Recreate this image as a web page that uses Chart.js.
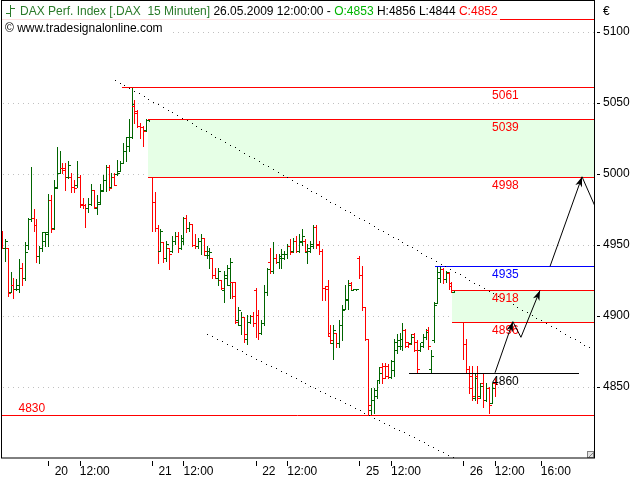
<!DOCTYPE html>
<html>
<head>
<meta charset="utf-8">
<title>DAX Perf. Index 15 Minuten</title>
<script src="https://cdn.jsdelivr.net/npm/chart.js@4.4.0/dist/chart.umd.min.js"></script>
<style>
  html, body { margin: 0; padding: 0; background: #fff; }
  #wrap { width: 640px; height: 480px; }
</style>
</head>
<body>
<div id="wrap"><canvas id="daxChart" width="640" height="480"></canvas></div>
<script>
// 15 minute bars, bar 0 = first bar of 20.05.2009, 36 bars per day
const firstBar = -16;

// one row per day: 19. (afternoon), 20., 21., 22., 25., 26. (until 12:00)
const opens = [
  4959,4948,4948,4917,4922,4919,4919,4934,4927,4950,4968,4969,4964,4942,4948,4953,
  4959,4982,4962,4991,5001,5004,5004,4998,4998,4991,4992,4998,4979,4978,4976,4979,4989,4976,4980,4988,4996,5005,4991,4998,5000,5002,5008,5016,5020,5026,5048,5043,5034,5033,5031,5038,
  4998,4980,4962,4946,4952,4941,4948,4946,4953,4956,4948,4953,4969,4962,4965,4950,4949,4953,4955,4943,4943,4941,4929,4927,4925,4918,4927,4922,4924,4924,4897,4894,4899,4884,4896,4900,
  4918,4901,4888,4895,4917,4938,4932,4941,4938,4941,4941,4944,4949,4946,4953,4946,4952,4953,4945,4946,4949,4963,4951,4946,4920,4921,4888,4881,4888,4881,4894,4905,4911,4923,4918,4919,
  4941,4929,4906,4884,4834,4841,4844,4855,4864,4865,4865,4857,4862,4876,4879,4879,4890,4882,4881,4887,4882,4876,4882,4885,4890,4863,4883,4909,4927,4933,4926,4930,4923,4917,4918,4918,
  4896,4880,4863,4858,4842,4858,4844,4853,4841,4849,4839,4853
];
const highs = [
  4960,4954,4948,4931,4927,4926,4940,4937,4952,4969,5005,4975,4968,4949,4959,4959,
  4986,4985,4996,5019,5016,5008,5008,5009,5001,4996,5009,4999,4983,4979,4983,4993,4989,4985,4993,4999,5006,5006,5001,5001,5010,5009,5022,5026,5039,5061,5052,5045,5036,5034,5039,5039,
  4998,4987,4964,4961,4952,4953,4948,4956,4959,4959,4957,4970,4971,4966,4965,4958,4955,4958,4955,4949,4948,4941,4934,4934,4925,4932,4936,4941,4924,4924,4906,4903,4899,4901,4901,4903,
  4920,4904,4897,4922,4934,4948,4952,4944,4944,4947,4946,4951,4954,4955,4956,4958,4961,4954,4951,4953,4964,4964,4953,4947,4921,4925,4894,4894,4888,4897,4908,4922,4925,4924,4919,4919,
  4942,4935,4906,4884,4849,4849,4855,4864,4867,4867,4866,4869,4884,4887,4888,4895,4891,4882,4887,4888,4883,4881,4887,4891,4892,4876,4910,4935,4935,4934,4932,4931,4924,4918,4918,4918,
  4896,4884,4865,4865,4860,4865,4853,4860,4853,4850,4853,4856
];
const lows = [
  4948,4939,4914,4917,4913,4918,4917,4922,4925,4947,4967,4960,4938,4937,4946,4949,
  4949,4959,4961,4990,5001,5001,4989,4997,4987,4987,4991,4977,4976,4963,4973,4978,4976,4972,4979,4988,4988,4989,4991,4992,4999,5002,5008,5009,5016,5025,5036,5033,5025,5020,5030,5037,
  4960,4960,4937,4946,4938,4939,4933,4945,4951,4945,4947,4951,4959,4960,4949,4948,4948,4944,4943,4941,4934,4927,4927,4922,4919,4910,4922,4913,4913,4895,4894,4887,4882,4880,4895,4893,
  4885,4884,4887,4894,4915,4930,4930,4937,4934,4934,4940,4941,4944,4945,4945,4945,4950,4945,4937,4945,4948,4948,4944,4911,4911,4886,4881,4870,4878,4878,4883,4905,4905,4918,4918,4918,
  4927,4904,4883,4830,4830,4832,4842,4853,4853,4856,4856,4856,4858,4874,4877,4876,4878,4878,4880,4875,4860,4875,4878,4884,4877,4860,4882,4909,4924,4923,4924,4919,4917,4917,4918,4918,
  4870,4860,4846,4841,4841,4839,4842,4836,4840,4832,4839,4844
];
const closes = [
  4948,4953,4916,4922,4919,4922,4934,4927,4945,4968,4969,4964,4942,4948,4959,4958,
  4982,4961,4990,5001,5004,5003,4998,5006,4991,4990,4998,4978,4978,4976,4979,4989,4977,4979,4989,4996,5005,4990,4998,4992,5001,5008,5016,5026,5026,5049,5044,5034,5033,5030,5038,5039,
  4980,4962,4946,4960,4941,4951,4944,4953,4956,4948,4955,4969,4962,4965,4950,4949,4953,4955,4946,4946,4945,4929,4927,4932,4920,4929,4934,4938,4914,4896,4904,4899,4887,4896,4900,4895,
  4901,4888,4895,4917,4933,4932,4941,4938,4942,4944,4944,4949,4945,4953,4946,4953,4956,4946,4948,4951,4963,4950,4946,4920,4919,4886,4883,4890,4881,4894,4904,4912,4922,4918,4919,4919,
  4929,4906,4884,4837,4841,4848,4855,4860,4856,4858,4857,4868,4882,4883,4884,4890,4879,4880,4885,4876,4863,4879,4885,4889,4879,4872,4908,4931,4933,4926,4931,4921,4918,4918,4918,4918,
  4880,4863,4849,4844,4856,4842,4851,4841,4849,4837,4849,4852
];

// time axis
const xTicks = [0, 11, 36, 47, 72, 83, 108, 119, 144, 155, 171];
const xTickLabels = ['  20', '12:00', '  21', '12:00', '  22', '12:00', '  25', '12:00', '  26', '12:00', '16:00'];
const yTicks = [4850, 4900, 4950, 5000, 5050, 5100];

// horizontal levels (price, first bar, last bar; null = to the edge)
const levels    = [5109, 5061, 5039, 4998, 4935, 4918, 4896, 4860, 4830];
const levelFrom = [null, 25.7, 34.6, 34.6, 134.3, 140.2, 140.2, 125.3, null];
const levelTo   = [null, null, null, null, null, null, null, 184.2, null];
const levelText = ['', '5061', '5039', '4998', '4935', '4918', '4896', '4860', '4830'];
const levelTextBar = [null, 158.7, 158.7, 158.7, 158.7, 158.7, 158.7, 158.7, -5.6];

// gaps: upper price, lower price, first bar
const gapBoxes = [[5039, 4998, 34.6], [4918, 4896, 140.2]];

// dotted trend channel [bar, price]
const trendUpper = [[23.2, 5066.2], [188.1, 4877.5]];
const trendLower = [[55.2, 4887.3], [141.2, 4800]];

// projected path, arrow heads at the listed vertices
const pathA = [[155.1, 4860], [161.3, 4896], [164.1, 4885], [170.7, 4918]];
const pathAHeads = [1, 3];
const pathB = [[174.2, 4935], [185.3, 4998], [190.5, 4974]];
const pathBHeads = [1];

const FONT = "Arial, 'Liberation Sans', sans-serif";
Chart.defaults.font.family = FONT;
Chart.defaults.font.size = 12;
Chart.defaults.color = '#000';

const UP = '#006400';
const DOWN = '#ff0000';
const levelColors = ['#ff0000', '#ff0000', '#ff0000', '#ff0000', '#0000ff', '#ff0000', '#ff0000', '#000000', '#ff0000'];

function arrowHead(ctx, from, tip) {
  const ang = Math.atan2(tip[1] - from[1], tip[0] - from[0]);
  const len = 10, half = 3.5;
  const bx = tip[0] - len * Math.cos(ang), by = tip[1] - len * Math.sin(ang);
  const nx = tip[0] - 0.7 * len * Math.cos(ang), ny = tip[1] - 0.7 * len * Math.sin(ang);
  const ox = -Math.sin(ang) * half, oy = Math.cos(ang) * half;
  ctx.beginPath();
  ctx.moveTo(tip[0], tip[1]);
  ctx.lineTo(bx + ox, by + oy);
  ctx.lineTo(nx, ny);
  ctx.lineTo(bx - ox, by - oy);
  ctx.closePath();
  ctx.fill();
}

// single pixel dots along a segment
function dots(ctx, x0, y0, x1, y1, step) {
  const len = Math.hypot(x1 - x0, y1 - y0);
  const n = Math.floor(len / step);
  for (let k = 0; k <= n; k++) {
    const t = k * step / len;
    ctx.fillRect(Math.round(x0 + (x1 - x0) * t), Math.round(y0 + (y1 - y0) * t), 1, 1);
  }
}

// keep the plot frame where it is, labels may overhang
function noPadding(s) {
  s.paddingTop = 0; s.paddingBottom = 0; s.paddingLeft = 0; s.paddingRight = 0;
}

const chartDrawing = {
  id: 'chartDrawing',
  afterDatasetsDraw(chart) {
    const { ctx, chartArea: a, scales: { x, y } } = chart;
    const px = v => x.getPixelForValue(v);
    const py = v => y.getPixelForValue(v);
    const row = v => Math.round(py(v));

    ctx.save();
    ctx.beginPath();
    ctx.rect(a.left, a.top, a.right - a.left, a.bottom - a.top);
    ctx.clip();

    // dotted grid
    ctx.fillStyle = '#c0c0c0';
    y.ticks.forEach(t => dots(ctx, a.left + 2, row(t.value), a.right, row(t.value), 5));

    // gap boxes
    ctx.fillStyle = '#e6ffe6';
    gapBoxes.forEach(([top, bottom, from]) => {
      const x0 = Math.round(px(from));
      ctx.fillRect(x0, row(top), a.right - x0, row(bottom) - row(top));
    });

    // OHLC bars
    for (let i = 0; i < opens.length; i++) {
      const xx = Math.round(px(firstBar + i));
      const yh = row(highs[i]), yl = row(lows[i]);
      ctx.fillStyle = closes[i] >= opens[i] ? UP : DOWN;
      ctx.fillRect(xx, yh, 1, Math.max(1, yl - yh + 1));
      ctx.fillRect(xx - 2, row(opens[i]), 2, 1);
      ctx.fillRect(xx + 1, row(closes[i]), 2, 1);
    }

    // levels
    ctx.lineWidth = 1;
    levels.forEach((p, k) => {
      const x0 = levelFrom[k] === null ? a.left : Math.round(px(levelFrom[k]));
      const x1 = levelTo[k] === null ? a.right : Math.round(px(levelTo[k]));
      const yy = row(p) + 0.5;
      ctx.strokeStyle = levelColors[k];
      ctx.beginPath(); ctx.moveTo(x0, yy); ctx.lineTo(x1, yy); ctx.stroke();
    });

    // trend channel
    ctx.fillStyle = '#000';
    [trendUpper, trendLower].forEach(([p0, p1]) => {
      dots(ctx, px(p0[0]), py(p0[1]), px(p1[0]), py(p1[1]), 5.5);
    });

    // level labels
    ctx.font = '12px ' + FONT;
    ctx.textAlign = 'center';
    ctx.textBaseline = 'alphabetic';
    levels.forEach((p, k) => {
      if (!levelText[k]) return;
      ctx.fillStyle = levelColors[k];
      const below = levelTextBar[k] > 0;
      ctx.fillText(levelText[k], px(levelTextBar[k]), below ? row(p) + 12 : row(p) - 3);
    });

    // projected path with arrows
    ctx.strokeStyle = '#000';
    ctx.fillStyle = '#000';
    [[pathA, pathAHeads], [pathB, pathBHeads]].forEach(([path, heads]) => {
      const pts = path.map(([b, p]) => [px(b), py(p)]);
      ctx.beginPath();
      pts.forEach((pt, k) => k ? ctx.lineTo(pt[0], pt[1]) : ctx.moveTo(pt[0], pt[1]));
      ctx.stroke();
      heads.forEach(h => arrowHead(ctx, pts[h - 1], pts[h]));
    });

    // resize grip in the corner
    ctx.fillStyle = '#e4e4e4';
    ctx.fillRect(a.right - 7, a.bottom - 7, 7, 7);
    ctx.strokeStyle = '#808080';
    ctx.strokeRect(a.right - 6.5, a.bottom - 6.5, 6, 6);
    ctx.beginPath(); ctx.moveTo(a.right - 5, a.bottom - 1); ctx.lineTo(a.right - 1, a.bottom - 5); ctx.stroke();
    ctx.restore();

    // frame
    ctx.save();
    ctx.strokeStyle = '#000';
    ctx.lineWidth = 1;
    ctx.strokeRect(a.left + 0.5, a.top - 0.5, a.right - a.left, a.bottom - a.top + 0.5);

    // tick marks
    y.ticks.forEach(t => {
      const yy = row(t.value) + 0.5;
      ctx.beginPath(); ctx.moveTo(a.right + 3, yy); ctx.lineTo(a.right + 6, yy); ctx.stroke();
    });
    x.ticks.forEach(t => {
      const xx = Math.round(px(t.value)) + 0.5;
      ctx.beginPath(); ctx.moveTo(xx, a.bottom + 3); ctx.lineTo(xx, a.bottom + 8); ctx.stroke();
    });

    // header
    ctx.fillStyle = 'rgba(255,255,255,0.88)';
    ctx.fillRect(a.left + 1, a.top, 498, 20);
    ctx.fillStyle = '#fff';
    ctx.fillRect(a.left + 1, a.top + 20, 168, 16);

    ctx.fillStyle = '#2a7a2a';
    ctx.fillRect(10, 5, 1, 12);
    ctx.fillRect(6, 13, 4, 1);
    ctx.fillRect(11, 8, 4, 1);

    ctx.font = '12px ' + FONT;
    ctx.textAlign = 'left';
    ctx.textBaseline = 'alphabetic';
    const header = [
      ['DAX Perf. Index [.DAX  15 Minuten] ', '#2a7a2a'],
      ['26.05.2009 12:00:00 - ', '#000'],
      ['O:4853 ', '#00b400'],
      ['H:4856 L:4844 ', '#000'],
      ['C:4852', '#ff0000']
    ];
    let hx = 20;
    header.forEach(([txt, col]) => {
      ctx.fillStyle = col;
      ctx.fillText(txt, hx, 15);
      hx += ctx.measureText(txt).width;
    });
    ctx.fillStyle = '#000';
    ctx.fillText('\u00a9 www.tradesignalonline.com', 5, 32);
    ctx.fillText('\u20ac', a.right + 9, 15);
    ctx.restore();
  }
};

new Chart(document.getElementById('daxChart'), {
  type: 'scatter',
  data: { datasets: [] },
  plugins: [chartDrawing],
  options: {
    responsive: false,
    animation: false,
    devicePixelRatio: 1,
    layout: { padding: { left: 1, top: 1, right: 0, bottom: 0 } },
    plugins: { legend: { display: false }, tooltip: { enabled: false } },
    scales: {
      x: {
        type: 'linear',
        min: -16.31,
        max: 189.45,
        grid: { display: false, drawTicks: false },
        border: { display: false },
        afterBuildTicks: s => { s.ticks = xTicks.map(v => ({ value: v })); },
        afterFit: s => { s.height = 22; noPadding(s); },
        ticks: {
          autoSkip: false,
          maxRotation: 0,
          align: 'start',
          padding: 6,
          color: '#000',
          callback: (v, i) => xTickLabels[i]
        }
      },
      y: {
        type: 'linear',
        position: 'right',
        min: 4800,
        max: 5121.8,
        grid: { display: false, drawTicks: false },
        border: { display: false },
        afterBuildTicks: s => { s.ticks = yTicks.map(v => ({ value: v })); },
        afterFit: s => { s.width = 46; noPadding(s); },
        ticks: { padding: 9, color: '#000', callback: v => String(v) }
      }
    }
  }
});
</script>
</body>
</html>
